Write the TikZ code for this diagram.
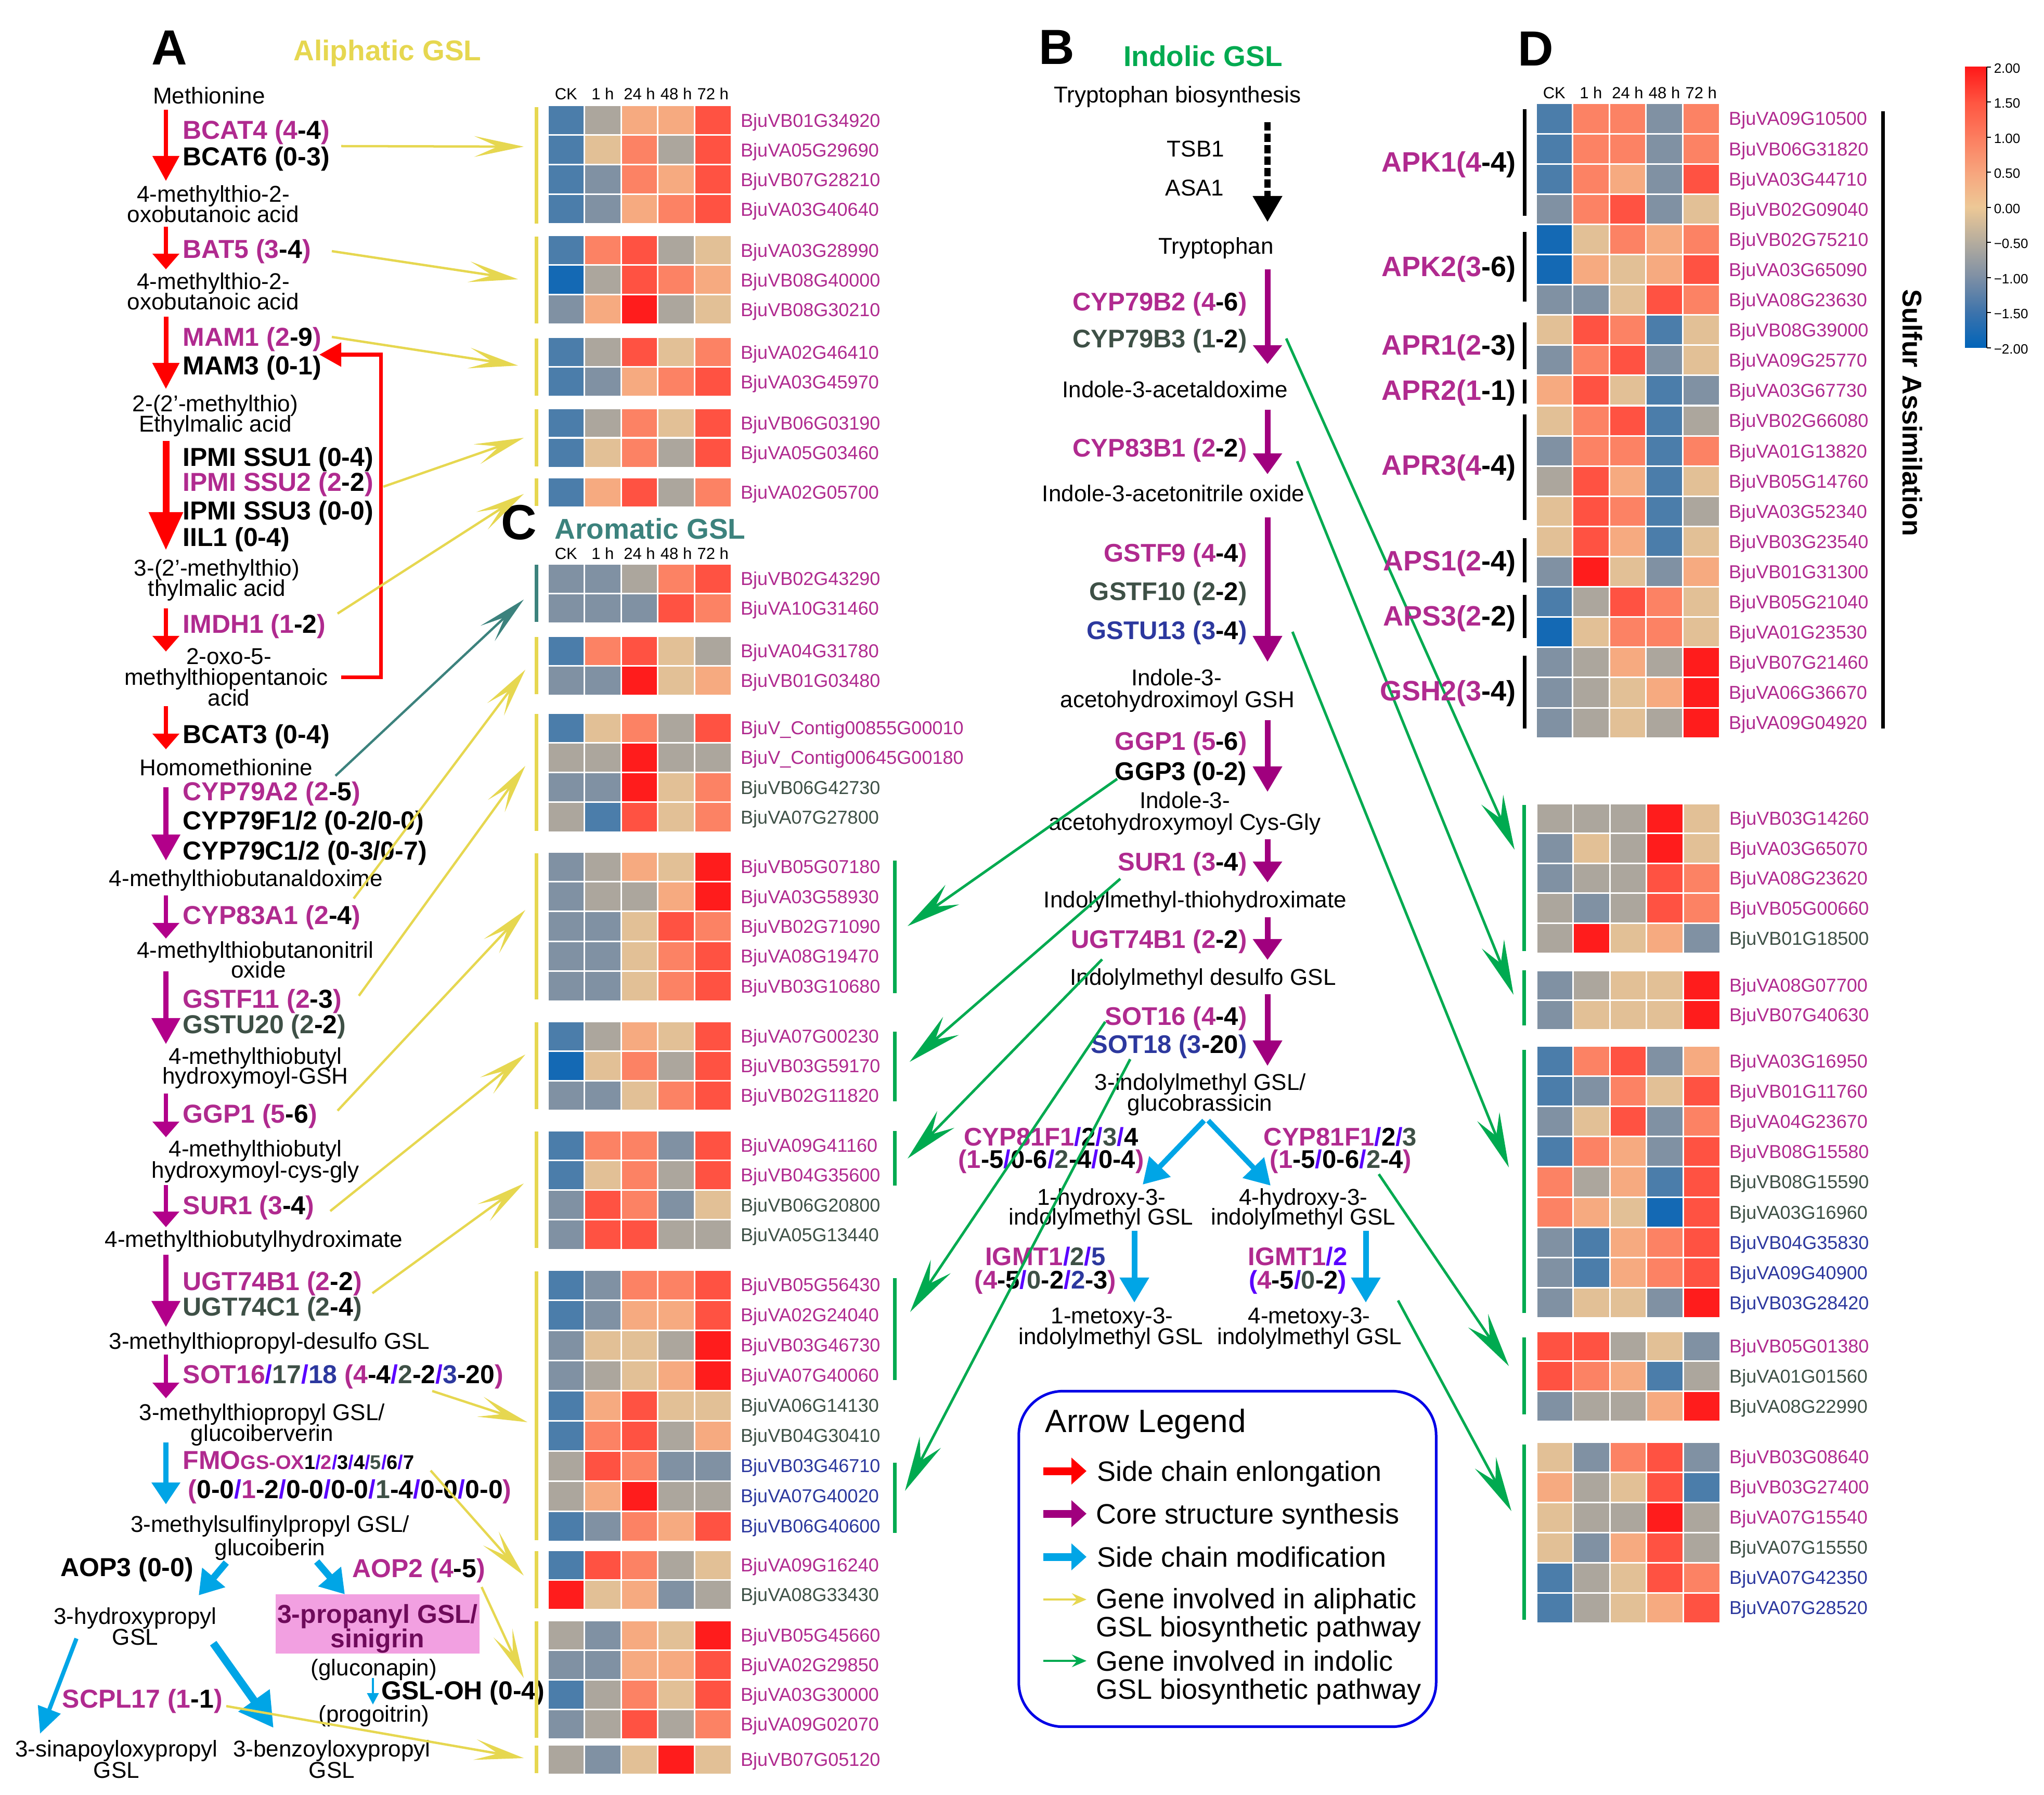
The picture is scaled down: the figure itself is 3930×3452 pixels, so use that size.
\documentclass[tikz,border=0pt]{standalone}
\usepackage{fontspec}
\setmainfont{Liberation Sans}
\usetikzlibrary{arrows.meta}
\definecolor{cred}{RGB}{255,0,0}
\definecolor{cpurA}{RGB}{178,0,138}
\definecolor{cpurB}{RGB}{160,0,126}
\definecolor{cblue}{RGB}{0,165,230}
\definecolor{cyel}{RGB}{230,215,80}
\definecolor{cgrn}{RGB}{0,170,80}
\definecolor{cteal}{RGB}{60,130,125}
\definecolor{gm}{RGB}{176,42,143}
\definecolor{gg}{RGB}{62,80,70}
\definecolor{gn}{RGB}{44,56,158}
\definecolor{gv}{RGB}{90,0,255}
\definecolor{cpink}{RGB}{242,160,225}
\definecolor{cpinkt}{RGB}{110,10,90}
\definecolor{clegbox}{RGB}{0,0,230}
\definecolor{hc0}{RGB}{20,105,180}
\definecolor{hc1}{RGB}{75,125,170}
\definecolor{hc2}{RGB}{128,145,163}
\definecolor{hc3}{RGB}{172,166,157}
\definecolor{hc4}{RGB}{226,192,150}
\definecolor{hc5}{RGB}{246,170,128}
\definecolor{hc6}{RGB}{252,130,100}
\definecolor{hc7}{RGB}{255,82,66}
\definecolor{hc8}{RGB}{255,28,28}
\newcommand\fszA{\fontsize{12.52pt}{14pt}\selectfont}
\newcommand\fszG{\fontsize{14.2pt}{16pt}\selectfont}
\newcommand\fszGB{\fontsize{13.94pt}{16pt}\selectfont}
\newcommand\fszL{\fontsize{10.24pt}{12pt}\selectfont}
\newcommand\fszH{\fontsize{8.82pt}{10pt}\selectfont}
\newcommand\fszT{\fontsize{15.65pt}{18pt}\selectfont}
\newcommand\fszP{\fontsize{27pt}{30pt}\selectfont}
\newcommand\fszLeg{\fontsize{15.36pt}{18pt}\selectfont}
\newcommand\fszLegT{\fontsize{17.64pt}{20pt}\selectfont}
\newcommand\fszSm{\fontsize{10.81pt}{12pt}\selectfont}
\newcommand\fszCB{\fontsize{7.4pt}{9pt}\selectfont}
\newcommand\fszS{\fontsize{15.36pt}{18pt}\selectfont}
\newcommand\fszSA{\fontsize{14.8pt}{17pt}\selectfont}
\newcommand\cM[1]{\textcolor{gm}{#1}}
\newcommand\cK[1]{\textcolor{black}{#1}}
\newcommand\cG[1]{\textcolor{gg}{#1}}
\newcommand\cN[1]{\textcolor{gn}{#1}}
\newcommand\cV{\textcolor{gv}{/}}
\newcommand\rh{57}
\newcommand\hcell[4]{\filldraw[fill=hc#4,draw=white,line width=0.03cm] ({#1+#3*70.6},#2) rectangle ++(70.6,\rh);}
\newcommand\hrow[3]{\edef\tmpd{#3}\expandafter\hrowi\tmpd\relax{#1}{#2}}
\def\hrowi#1#2#3#4#5\relax#6#7{\hcell{#6}{#7}{0}{#1}\hcell{#6}{#7}{1}{#2}\hcell{#6}{#7}{2}{#3}\hcell{#6}{#7}{3}{#4}\hcell{#6}{#7}{4}{#5}}
\newcommand\hgroup[5]{\def\rh{#4}%
 \foreach \nm/\cl/\vals [count=\j from 0] in {#5}{%
   \pgfmathsetmacro\yy{#3+\j*#4}%
   \hrow{#2}{\yy}{\vals}%
   \node[lbl,text=\cl,anchor=west] (#1-\j) at ({#2+370.5},{\yy+#4/2}) {\nm};
 }}
\newcommand\conn[4]{\coordinate (#1s) at (#2);\coordinate (#1e) at (#3);\draw[#4] (#1s) -- (#1e);}
\tikzset{
 chem/.style={font=\fszA, inner sep=0pt, text height=0.315cm, text depth=0pt},
 gA/.style={font=\fszG\bfseries, inner sep=0pt, text height=0.358cm, text depth=0pt, anchor=west},
 gB/.style={font=\fszGB\bfseries, inner sep=0pt, text height=0.351cm, text depth=0pt, anchor=east},
 lbl/.style={font=\fszL, inner sep=0pt, text height=0.258cm, text depth=0pt},
 hdr/.style={font=\fszH, inner sep=0pt, text height=0.222cm, text depth=0pt},
 ttl/.style={font=\fszT\bfseries, inner sep=0pt, text height=0.394cm, text depth=0pt},
 pan/.style={font=\fszP\bfseries, inner sep=0pt, text height=0.68cm, text depth=0pt},
 leg/.style={font=\fszLeg, inner sep=0pt, text height=0.387cm, text depth=0pt, anchor=west},
 cbl/.style={font=\fszCB, inner sep=0pt, text height=0.186cm, text depth=0pt, anchor=west},
 gS/.style={font=\fszS\bfseries, inner sep=0pt, text height=0.387cm, text depth=0pt, anchor=east},
 pinkt/.style={font=\fszG\bfseries, text=cpinkt, inner sep=0pt, text height=0.358cm, text depth=0pt},
 tri/.style 2 args={-{Triangle[width=#1,length=#2]}},
 arrS/.style={line width=0.08cm, tri={0.5cm}{0.3cm}},
 arrM/.style={line width=0.1cm, tri={0.53cm}{0.5cm}},
 yarr/.style={draw=cyel, line width=0.045cm, -{Stealth[length=0.95cm,width=0.4cm,inset=0.45cm]}},
 tarr/.style={draw=cteal, line width=0.045cm, -{Stealth[length=0.95cm,width=0.4cm,inset=0.45cm]}},
 garr/.style={draw=cgrn, line width=0.05cm, -{Stealth[length=1.05cm,width=0.46cm,inset=0.4cm]}},
 bar/.style={line width=0.07cm},
}
\begin{document}
\begin{tikzpicture}[x=0.01cm,y=-0.01cm]
\useasboundingbox (0,0) rectangle (3930,3452);
\fill[white] (0,0) rectangle (3930,3452);

% ---------- titles ----------
\node[pan] (pA) at (326,90) {A};
\node[ttl,text=cyel] (tAli) at (745,97) {Aliphatic GSL};
\node[pan] (pB) at (2032,89) {B};
\node[ttl,text=cgrn] (tInd) at (2313,108) {Indolic GSL};
\node[pan] (pC) at (998,1003) {C};
\node[ttl,text=cteal] (tAro) at (1250,1017) {Aromatic GSL};
\node[pan] (pD) at (2953,92) {D};

% ---------- pathway A ----------
\node[chem] (met) at (402,184) {Methionine};
\node[gA] (bcat4) at (351,250) {\cM{BCAT4 (4}\cK{-4}\cM{)}};
\node[gA] (bcat6) at (351,301) {BCAT6 (0-3)};
\node[chem] (mtoa1a) at (410,373) {4-methylthio-2-};
\node[chem] (mtoa1b) at (410,412) {oxobutanoic acid};
\node[gA] (bat5) at (351,479) {\cM{BAT5 (3}\cK{-4}\cM{)}};
\node[chem] (mtoa2a) at (410,541) {4-methylthio-2-};
\node[chem] (mtoa2b) at (410,580) {oxobutanoic acid};
\node[gA] (mam1) at (351,648) {\cM{MAM1 (2}\cK{-9}\cM{)}};
\node[gA] (mam3) at (351,703) {MAM3 (0-1)};
\node[chem] (emaa) at (414,776) {2-(2’-methylthio)};
\node[chem] (emab) at (414,815) {Ethylmalic acid};
\node[gA] (ipmi1) at (351,879) {IPMI SSU1 (0-4)};
\node[gA] (ipmi2) at (351,927) {\cM{IPMI SSU2 (2}\cK{-2}\cM{)}};
\node[gA] (ipmi3) at (351,982) {IPMI SSU3 (0-0)};
\node[gA] (iil1) at (351,1033) {IIL1 (0-4)};
\node[chem] (tmaa) at (417,1092) {3-(2’-methylthio)};
\node[chem] (tmab) at (417,1131) {thylmalic acid};
\node[gA] (imdh1) at (351,1200) {\cM{IMDH1 (1}\cK{-2}\cM{)}};
\node[chem] (oxoa) at (440,1262) {2-oxo-5-};
\node[chem] (oxob) at (435,1302) {methylthiopentanoic};
\node[chem] (oxoc) at (440,1342) {acid};
\node[gA] (bcat3) at (351,1412) {BCAT3 (0-4)};
\node[chem] (hmet) at (435,1476) {Homomethionine};
\node[gA] (cyp79a2) at (351,1522) {\cM{CYP79A2 (2}\cK{-5}\cM{)}};
\node[gA] (cyp79f) at (351,1578) {CYP79F1/2 (0-2/0-0)};
\node[gA] (cyp79c) at (351,1636) {CYP79C1/2 (0-3/0-7)};
\node[chem] (mtbo) at (473,1689) {4-methylthiobutanaldoxime};
\node[gA] (cyp83a1) at (351,1760) {\cM{CYP83A1 (2}\cK{-4}\cM{)}};
\node[chem] (mtbna) at (491,1827) {4-methylthiobutanonitril};
\node[chem] (mtbnb) at (497,1865) {oxide};
\node[gA] (gstf11) at (351,1921) {\cM{GSTF11 (2}\cK{-3}\cM{)}};
\node[gA] (gstu20) at (351,1970) {\cG{GSTU20 (2}\cK{-2}\cG{)}};
\node[chem] (gsha) at (491,2031) {4-methylthiobutyl};
\node[chem] (gshb) at (491,2069) {hydroxymoyl-GSH};
\node[gA] (ggp1a) at (351,2142) {\cM{GGP1 (5}\cK{-6}\cM{)}};
\node[chem] (cgla) at (491,2209) {4-methylthiobutyl};
\node[chem] (cglb) at (491,2250) {hydroxymoyl-cys-gly};
\node[gA] (sur1a) at (351,2318) {\cM{SUR1 (3}\cK{-4}\cM{)}};
\node[chem] (thx) at (488,2383) {4-methylthiobutylhydroximate};
\node[gA] (ugtb1a) at (351,2464) {\cM{UGT74B1 (2}\cK{-2}\cM{)}};
\node[gA] (ugtc1) at (351,2513) {\cG{UGT74C1 (2}\cK{-4}\cG{)}};
\node[chem] (dsg) at (518,2579) {3-methylthiopropyl-desulfo GSL};
\node[gA] (sota) at (351,2643) {\cM{SOT16}\cV\cG{17}\cV\cN{18}\ \cM{(4}\cK{-4}\cV\cG{2}\cK{-2}\cV\cN{3}\cK{-20}\cM{)}};
\node[chem] (gibva) at (504,2716) {3-methylthiopropyl GSL/};
\node[chem] (gibvb) at (504,2756) {glucoiberverin};
\node[gA] (fmo) at (351,2808) {\cM{FMO}{\fszSm\cM{GS-OX}\cK{1}\cV\cM{2}\cV\cK{3}\cV\cK{4}\cV\cG{5}\cV\cK{6}\cV\cK{7}}};
\node[gA] (fmob) at (361,2864) {\cM{(}\cK{0-0}\cV\cM{1}\cK{-2}\cV\cK{0-0}\cV\cK{0-0}\cV\cG{1}\cK{-4}\cV\cK{0-0}\cV\cK{0-0}\cM{)}};
\node[chem] (giba) at (519,2931) {3-methylsulfinylpropyl GSL/};
\node[chem] (gibb) at (519,2976) {glucoiberin};
\node[gA] (aop3) at (116,3014) {AOP3 (0-0)};
\node[gA] (aop2) at (677,3016) {\cM{AOP2 (4}\cK{-5}\cM{)}};
\node[chem] (hpa) at (260,3108) {3-hydroxypropyl};
\node[chem] (hpb) at (260,3148) {GSL};
\node[fill=cpink, minimum width=3.92cm, minimum height=1.14cm, inner sep=0pt] (pbox) at (726,3123) {};
\node[pinkt] (sina) at (726,3104) {3-propanyl GSL/};
\node[pinkt] (sinb) at (726,3151) {sinigrin};
\node[chem] (gnap) at (719,3207) {(gluconapin)};
\node[gA] (gsloh) at (733,3251) {GSL-OH (0-4)};
\node[chem] (prog) at (719,3296) {(progoitrin)};
\node[gA] (scpl) at (119,3267) {\cM{SCPL17 (1}\cK{-1}\cM{)}};
\node[chem] (sinpa) at (224,3363) {3-sinapoyloxypropyl};
\node[chem] (sinpb) at (224,3404) {GSL};
\node[chem] (benza) at (638,3363) {3-benzoyloxypropyl};
\node[chem] (benzb) at (638,3404) {GSL};

% pathway A arrows
\conn{r1}{319,211}{319,348}{draw=cred,line width=0.08cm,tri={0.5cm}{0.48cm}}
\conn{r2}{319,436}{319,518}{draw=cred,arrS}
\conn{r3}{319,609}{319,748}{draw=cred,line width=0.09cm,tri={0.5cm}{0.5cm}}
\conn{r4}{319,848}{319,1058}{draw=cred,line width=0.13cm,tri={0.63cm}{0.73cm}}
\conn{r5}{319,1170}{319,1253}{draw=cred,arrS}
\conn{r6}{319,1358}{319,1441}{draw=cred,arrS}
\coordinate (fbs) at (656,1302);\coordinate (fb1) at (732,1302);\coordinate (fb2) at (732,682);\coordinate (fbe) at (614,682);
\draw[draw=cred,line width=0.07cm,tri={0.45cm}{0.42cm}] (fbs) -- (fb1) -- (fb2) -- (fbe);
\conn{p1}{319,1514}{319,1655}{draw=cpurA,arrM}
\conn{p2}{319,1722}{319,1805}{draw=cpurA,arrS}
\conn{p3}{319,1868}{319,2008}{draw=cpurA,arrM}
\conn{p4}{319,2103}{319,2187}{draw=cpurA,arrS}
\conn{p5}{319,2279}{319,2360}{draw=cpurA,arrS}
\conn{p6}{319,2413}{319,2552}{draw=cpurA,arrM}
\conn{p7}{319,2605}{319,2689}{draw=cpurA,arrS}
\conn{bf}{319,2774}{319,2893}{draw=cblue,line width=0.1cm,tri={0.53cm}{0.42cm}}
\conn{ba3}{435,3005}{382,3068}{draw=cblue,line width=0.13cm,tri={0.55cm}{0.45cm}}
\conn{ba2}{609,3003}{663,3066}{draw=cblue,line width=0.13cm,tri={0.55cm}{0.45cm}}
\conn{bsn}{147,3151}{77,3334}{draw=cblue,line width=0.08cm,tri={0.45cm}{0.5cm}}
\conn{bbz}{410,3160}{526,3323}{draw=cblue,line width=0.15cm,tri={0.7cm}{0.65cm}}
\conn{boh}{717,3227}{717,3278}{draw=cblue,line width=0.04cm,tri={0.22cm}{0.22cm}}

% yellow / teal connectors
\conn{y1}{656,281}{1007,282}{yarr}
\conn{y2}{638,483}{996,537}{yarr}
\conn{y3}{638,648}{996,703}{yarr}
\conn{y4}{737,936}{1007,842}{yarr}
\conn{y5}{649,1180}{1007,950}{yarr}
\conn{t1}{645,1492}{1007,1153}{tarr}
\conn{y6}{680,1728}{1010,1288}{yarr}
\conn{y7}{690,1915}{1010,1473}{yarr}
\conn{y8}{649,2136}{1010,1750}{yarr}
\conn{y9}{635,2329}{1010,2028}{yarr}
\conn{y10}{716,2487}{1007,2276}{yarr}
\conn{y11}{831,2675}{1014,2735}{yarr}
\conn{y12}{828,2828}{1007,3030}{yarr}
\conn{y13}{926,3052}{1007,3227}{yarr}
\conn{y14}{435,3281}{1007,3381}{yarr}

% ---------- heatmaps A / C ----------
\foreach \t [count=\i from 0] in {CK,1 h,24 h,48 h,72 h}{
  \node[hdr] (hA-\i) at ({1088.3+\i*70.6},180) {\t};
  \node[hdr] (hC-\i) at ({1088.3+\i*70.6},1064) {\t};
  \node[hdr] (hD-\i) at ({2988.3+\i*70.6},178) {\t};}
\hgroup{al1}{1053}{203}{57}{BjuVB01G34920/gm/13557,BjuVA05G29690/gm/14637,BjuVB07G28210/gm/12657,BjuVA03G40640/gm/12567}
\hgroup{al2}{1053}{453}{57}{BjuVA03G28990/gm/16734,BjuVB08G40000/gm/03765,BjuVB08G30210/gm/25834}
\hgroup{al3}{1053}{649}{57}{BjuVA02G46410/gm/13746,BjuVA03G45970/gm/12567}
\hgroup{al4}{1053}{785}{57}{BjuVB06G03190/gm/13647,BjuVA05G03460/gm/14637}
\hgroup{al5}{1053}{918}{57}{BjuVA02G05700/gm/15736}
\hgroup{ar1}{1053}{1084}{57}{BjuVB02G43290/gm/22367,BjuVA10G31460/gm/22276}
\hgroup{ar2}{1053}{1223}{57}{BjuVA04G31780/gm/16743,BjuVB01G03480/gm/22845}
\hgroup{ar3}{1053}{1371}{57.3}{BjuV\_Contig00855G00010/gm/14637,BjuV\_Contig00645G00180/gm/33833,BjuVB06G42730/gg/22846,BjuVA07G27800/gg/31746}
\hgroup{ar4}{1053}{1638}{57.4}{BjuVB05G07180/gm/23548,BjuVA03G58930/gm/23358,BjuVB02G71090/gm/22476,BjuVA08G19470/gm/22467,BjuVB03G10680/gm/22467}
\hgroup{ar5}{1053}{1964}{57}{BjuVA07G00230/gm/13547,BjuVB03G59170/gm/04637,BjuVB02G11820/gm/22467}
\hgroup{ar6}{1053}{2174}{57.3}{BjuVA09G41160/gm/16627,BjuVB04G35600/gm/14637,BjuVB06G20800/gg/27624,BjuVA05G13440/gg/27733}
\hgroup{ar7}{1053}{2442}{58}{BjuVB05G56430/gm/12667,BjuVA02G24040/gm/12557,BjuVB03G46730/gm/24438,BjuVA07G40060/gm/23458,BjuVA06G14130/gg/15744,BjuVB04G30410/gg/16735,BjuVB03G46710/gn/37622,BjuVA07G40020/gn/35833,BjuVB06G40600/gn/12657}
\hgroup{ar8}{1053}{2981}{57}{BjuVA09G16240/gm/17634,BjuVA08G33430/gg/84523}
\hgroup{ar9}{1053}{3116}{57}{BjuVB05G45660/gm/32548,BjuVA02G29850/gm/22557,BjuVA03G30000/gm/13647,BjuVA09G02070/gm/23736}
\hgroup{ar10}{1053}{3355}{57}{BjuVB07G05120/gm/32484}
% group bars
\draw[bar,cyel] (1031,206) -- (1031,430);
\draw[bar,cyel] (1031,455) -- (1031,622);
\draw[bar,cyel] (1031,651) -- (1031,761);
\draw[bar,cyel] (1031,787) -- (1031,897);
\draw[bar,cyel] (1031,920) -- (1031,973);
\draw[bar,cteal] (1031,1086) -- (1031,1196);
\draw[bar,cyel] (1031,1225) -- (1031,1335);
\draw[bar,cyel] (1031,1373) -- (1031,1598);
\draw[bar,cyel] (1031,1641) -- (1031,1922);
\draw[bar,cyel] (1031,1966) -- (1031,2133);
\draw[bar,cyel] (1031,2176) -- (1031,2400);
\draw[bar,cyel] (1031,2445) -- (1031,2962);
\draw[bar,cyel] (1031,2983) -- (1031,3093);
\draw[bar,cyel] (1031,3118) -- (1031,3342);
\draw[bar,cyel] (1031,3357) -- (1031,3410);
\draw[bar,cgrn] (1720,1655) -- (1720,1910);
\draw[bar,cgrn] (1720,1984) -- (1720,2118);
\draw[bar,cgrn] (1720,2175) -- (1720,2280);
\draw[bar,cgrn] (1720,2458) -- (1720,2654);
\draw[bar,cgrn] (1720,2813) -- (1720,2948);

% ---------- pathway B ----------
\node[chem] (trpb) at (2264,182) {Tryptophan biosynthesis};
\node[chem] (tsb1) at (2299,286) {TSB1};
\node[chem] (asa1) at (2297,361) {ASA1};
\node[chem] (trp) at (2338,473) {Tryptophan};
\node[gB] (cyp79b2) at (2398,580) {\cM{CYP79B2 (4}\cK{-6}\cM{)}};
\node[gB] (cyp79b3) at (2398,651) {\cG{CYP79B3 (1}\cK{-2}\cG{)}};
\node[chem] (iaox) at (2259,749) {Indole-3-acetaldoxime};
\node[gB] (cyp83b1) at (2398,861) {\cM{CYP83B1 (2}\cK{-2}\cM{)}};
\node[chem] (iano) at (2256,949) {Indole-3-acetonitrile oxide};
\node[gB] (gstf9) at (2398,1063) {\cM{GSTF9 (4}\cK{-4}\cM{)}};
\node[gB] (gstf10) at (2398,1137) {\cG{GSTF10 (2}\cK{-2}\cG{)}};
\node[gB] (gstu13) at (2398,1212) {\cN{GSTU13 (3}\cK{-4}\cN{)}};
\node[chem] (igsha) at (2262,1303) {Indole-3-};
\node[chem] (igshb) at (2264,1345) {acetohydroximoyl GSH};
\node[gB] (ggp1b) at (2398,1425) {\cM{GGP1 (5}\cK{-6}\cM{)}};
\node[gB] (ggp3) at (2398,1483) {GGP3 (0-2)};
\node[chem] (icga) at (2278,1539) {Indole-3-};
\node[chem] (icgb) at (2278,1581) {acetohydroxymoyl Cys-Gly};
\node[gB] (sur1b) at (2398,1657) {\cM{SUR1 (3}\cK{-4}\cM{)}};
\node[chem] (ithx) at (2298,1730) {Indolylmethyl-thiohydroximate};
\node[gB] (ugtb1b) at (2398,1806) {\cM{UGT74B1 (2}\cK{-2}\cM{)}};
\node[chem] (ids) at (2313,1879) {Indolylmethyl desulfo GSL};
\node[gB] (sot16b) at (2398,1954) {\cM{SOT16 (4}\cK{-4}\cM{)}};
\node[gB] (sot18b) at (2398,2008) {\cN{SOT18 (3}\cK{-20}\cN{)}};
\node[chem] (gbra) at (2308,2081) {3-indolylmethyl GSL/};
\node[chem] (gbrb) at (2307,2121) {glucobrassicin};
\node[gB,anchor=center] (cyp81l) at (2021,2186) {\cM{CYP81F1}\cV\cK{2}\cV\cG{3}\cV\cK{4}};
\node[gB,anchor=center] (cyp81lb) at (2021,2229) {\cM{(1}\cK{-5}\cV\cK{0-6}\cV\cG{2}\cK{-4}\cV\cK{0-4}\cM{)}};
\node[gB,anchor=center] (cyp81r) at (2577,2186) {\cM{CYP81F1}\cV\cK{2}\cV\cG{3}};
\node[gB,anchor=center] (cyp81rb) at (2578,2229) {\cM{(1}\cK{-5}\cV\cK{0-6}\cV\cG{2}\cK{-4}\cM{)}};
\node[chem] (h1a) at (2118,2302) {1-hydroxy-3-};
\node[chem] (h1b) at (2117,2340) {indolylmethyl GSL};
\node[chem] (h4a) at (2506,2302) {4-hydroxy-3-};
\node[chem] (h4b) at (2506,2340) {indolylmethyl GSL};
\node[gB,anchor=center] (igmtl) at (2010,2416) {\cM{IGMT1}\cV\cG{2}\cV\cN{5}};
\node[gB,anchor=center] (igmtlb) at (2010,2461) {\cM{(4}\cK{-5}\cV\cG{0}\cK{-2}\cV\cN{2}\cK{-3}\cM{)}};
\node[gB,anchor=center] (igmtr) at (2495,2416) {\cM{IGMT1}\cV\textcolor{gv}{2}};
\node[gB,anchor=center] (igmtrb) at (2495,2461) {\textcolor{gv}{(}\cM{4}\cK{-5}\cV\cG{0}\cK{-2}\textcolor{gv}{)}};
\node[chem] (m1a) at (2138,2530) {1-metoxy-3-};
\node[chem] (m1b) at (2136,2570) {indolylmethyl GSL};
\node[chem] (m4a) at (2517,2530) {4-metoxy-3-};
\node[chem] (m4b) at (2518,2570) {indolylmethyl GSL};

% pathway B arrows
\coordinate (dks) at (2437,235);\coordinate (dkm) at (2437,385);\coordinate (dke) at (2437,427);
\draw[line width=0.115cm,dash pattern=on 0.16cm off 0.06cm] (dks) -- (dkm);
\draw[line width=0.115cm,tri={0.54cm}{0.5cm}] (dkm) -- (dke);
\conn{q1}{2437,518}{2437,700}{draw=cpurB,line width=0.11cm,tri={0.54cm}{0.36cm}}
\conn{q2}{2437,788}{2437,912}{draw=cpurB,line width=0.11cm,tri={0.54cm}{0.4cm}}
\conn{q3}{2437,995}{2437,1273}{draw=cpurB,line width=0.11cm,tri={0.54cm}{0.5cm}}
\conn{q4}{2437,1385}{2437,1523}{draw=cpurB,line width=0.11cm,tri={0.54cm}{0.49cm}}
\conn{q5}{2437,1614}{2437,1697}{draw=cpurB,line width=0.11cm,tri={0.54cm}{0.4cm}}
\conn{q6}{2437,1764}{2437,1846}{draw=cpurB,line width=0.11cm,tri={0.54cm}{0.4cm}}
\conn{q7}{2437,1912}{2437,2050}{draw=cpurB,line width=0.11cm,tri={0.54cm}{0.49cm}}
\conn{bb1}{2315,2155}{2197,2278}{draw=cblue,line width=0.1cm,tri={0.55cm}{0.48cm}}
\conn{bb2}{2323,2155}{2443,2280}{draw=cblue,line width=0.1cm,tri={0.55cm}{0.48cm}}
\conn{bb3}{2181,2367}{2181,2505}{draw=cblue,line width=0.11cm,tri={0.54cm}{0.48cm}}
\conn{bb4}{2626,2367}{2626,2505}{draw=cblue,line width=0.11cm,tri={0.54cm}{0.48cm}}

% green connectors
\conn{g1}{2148,1498}{1745,1781}{garr}
\conn{g2}{2154,1690}{1749,2042}{garr}
\conn{g3}{2119,1845}{1745,2228}{garr}
\conn{g4}{2125,1965}{1750,2523}{garr}
\conn{g5}{2173,2037}{1740,2867}{garr}
\conn{g6}{2473,651}{2912,1634}{garr}
\conn{g7}{2494,887}{2910,1913}{garr}
\conn{g8}{2485,1215}{2901,2245}{garr}
\conn{g9}{2651,2258}{2901,2627}{garr}
\conn{g10}{2688,2501}{2906,2906}{garr}

% ---------- legend ----------
\node[draw=clegbox, line width=0.05cm, rounded corners=0.85cm, minimum width=8.02cm, minimum height=6.45cm, inner sep=0pt] (legbox) at (2360,2998) {};
\node[font=\fszLegT, inner sep=0pt, text height=0.444cm, text depth=0pt, anchor=west] (legt) at (2009,2732) {Arrow Legend};
\conn{l1}{2006,2829}{2089,2829}{draw=cred,line width=0.15cm,tri={0.5cm}{0.29cm}}
\conn{l2}{2006,2911}{2089,2911}{draw=cpurB,line width=0.15cm,tri={0.5cm}{0.29cm}}
\conn{l3}{2006,2994}{2089,2994}{draw=cblue,line width=0.15cm,tri={0.5cm}{0.29cm}}
\conn{l4}{2006,3076}{2089,3076}{draw=cyel,line width=0.04cm,-{Stealth[length=0.28cm,width=0.24cm,inset=0.1cm]}}
\conn{l5}{2006,3194}{2089,3194}{draw=cgrn,line width=0.04cm,-{Stealth[length=0.28cm,width=0.24cm,inset=0.1cm]}}
\node[leg] (lt1) at (2109,2829) {Side chain enlongation};
\node[leg] (lt2) at (2107,2911) {Core structure synthesis};
\node[leg] (lt3) at (2109,2994) {Side chain modification};
\node[leg] (lt4) at (2107,3074) {Gene involved in aliphatic};
\node[leg] (lt5) at (2107,3128) {GSL biosynthetic pathway};
\node[leg] (lt6) at (2107,3194) {Gene involved in indolic};
\node[leg] (lt7) at (2107,3248) {GSL biosynthetic pathway};

% ---------- panel D ----------
\hgroup{du}{2953}{199}{58.1}{BjuVA09G10500/gm/16626,BjuVB06G31820/gm/16626,BjuVA03G44710/gm/16527,BjuVB02G09040/gm/26724,BjuVB02G75210/gm/04656,BjuVA03G65090/gm/05457,BjuVA08G23630/gm/22476,BjuVB08G39000/gm/47614,BjuVA09G25770/gm/26724,BjuVA03G67730/gm/57412,BjuVB02G66080/gm/46713,BjuVA01G13820/gm/26616,BjuVB05G14760/gm/37514,BjuVA03G52340/gm/47613,BjuVB03G23540/gm/47514,BjuVB01G31300/gm/28425,BjuVB05G21040/gm/13764,BjuVA01G23530/gm/04664,BjuVB07G21460/gm/23538,BjuVA06G36670/gm/23458,BjuVA09G04920/gm/23438}
\hgroup{d1}{2954}{1545}{57.6}{BjuVB03G14260/gm/33384,BjuVA03G65070/gm/24384,BjuVA08G23620/gm/23376,BjuVB05G00660/gm/32376,BjuVB01G18500/gg/38452}
\hgroup{d2}{2954}{1866}{57}{BjuVA08G07700/gm/23448,BjuVB07G40630/gm/24448}
\hgroup{d3}{2954}{2011}{58.2}{BjuVA03G16950/gm/16725,BjuVB01G11760/gm/12647,BjuVA04G23670/gm/24726,BjuVB08G15580/gm/16527,BjuVB08G15590/gg/63517,BjuVA03G16960/gg/65407,BjuVB04G35830/gn/21567,BjuVA09G40900/gn/21567,BjuVB03G28420/gn/24428}
\hgroup{d4}{2954}{2560}{57.7}{BjuVB05G01380/gm/77342,BjuVA01G01560/gg/76513,BjuVA08G22990/gg/23358}
\hgroup{d5}{2954}{2773}{58}{BjuVB03G08640/gm/42672,BjuVB03G27400/gm/53471,BjuVA07G15540/gm/43383,BjuVA07G15550/gg/42573,BjuVA07G42350/gn/13476,BjuVA07G28520/gn/13457}
\draw[bar] (2931,210) -- (2931,415);
\draw[bar] (2931,446) -- (2931,580);
\draw[bar] (2931,620) -- (2931,710);
\draw[bar] (2931,730) -- (2931,776);
\draw[bar] (2931,797) -- (2931,1000);
\draw[bar] (2931,1035) -- (2931,1120);
\draw[bar] (2931,1144) -- (2931,1227);
\draw[bar] (2931,1261) -- (2931,1401);
\draw[bar] (3620,214) -- (3620,1401);
\draw[bar,cgrn] (2930,1548) -- (2930,1829);
\draw[bar,cgrn] (2930,1866) -- (2930,1972);
\draw[bar,cgrn] (2930,2019) -- (2930,2525);
\draw[bar,cgrn] (2930,2572) -- (2930,2720);
\draw[bar,cgrn] (2930,2778) -- (2930,3115);
\node[gS] (apk1) at (2915,311) {\cM{APK1(4}\cK{-4)}};
\node[gS] (apk2) at (2915,512) {\cM{APK2(3}\cK{-6)}};
\node[gS] (apr1) at (2915,663) {\cM{APR1(2}\cK{-3)}};
\node[gS] (apr2) at (2915,750) {\cM{APR2(1}\cK{-1)}};
\node[gS] (apr3) at (2915,894) {\cM{APR3(4}\cK{-4)}};
\node[gS] (aps1) at (2915,1078) {\cM{APS1(2}\cK{-4)}};
\node[gS] (aps3) at (2915,1184) {\cM{APS3(2}\cK{-2)}};
\node[gS] (gsh2) at (2915,1328) {\cM{GSH2(3}\cK{-4)}};
\node[font=\fszSA\bfseries, inner sep=0pt, rotate=-90] (sulf) at (3677,794) {Sulfur Assimilation};

% colour bar
\shade[top color={rgb,255:red,255;green,25;blue,25}, bottom color={rgb,255:red,255;green,85;blue,65}] (3778,129) rectangle (3820,197);
\shade[top color={rgb,255:red,255;green,85;blue,65}, bottom color={rgb,255:red,252;green,125;blue,95}] (3778,196) rectangle (3820,264);
\shade[top color={rgb,255:red,252;green,125;blue,95}, bottom color={rgb,255:red,247;green,165;blue,125}] (3778,263) rectangle (3820,332);
\shade[top color={rgb,255:red,247;green,165;blue,125}, bottom color={rgb,255:red,237;green,200;blue,150}] (3778,331) rectangle (3820,399);
\shade[top color={rgb,255:red,237;green,200;blue,150}, bottom color={rgb,255:red,180;green,172;blue,158}] (3778,398) rectangle (3820,467);
\shade[top color={rgb,255:red,180;green,172;blue,158}, bottom color={rgb,255:red,125;green,143;blue,165}] (3778,466) rectangle (3820,534);
\shade[top color={rgb,255:red,125;green,143;blue,165}, bottom color={rgb,255:red,60;green,115;blue,172}] (3778,533) rectangle (3820,602);
\shade[top color={rgb,255:red,60;green,115;blue,172}, bottom color={rgb,255:red,0;green,100;blue,185}] (3778,601) rectangle (3820,669);
\draw[line width=0.02cm] (3820,129) -- (3820,669);
\foreach \t [count=\i from 0] in {2.00,1.50,1.00,0.50,0.00,−0.50,−1.00,−1.50,−2.00}{
  \draw[line width=0.02cm] (3820,{129+\i*67.5}) -- (3828,{129+\i*67.5});
  \node[cbl] (cb\i) at (3833,{131+\i*67.5}) {\t};}
\end{tikzpicture}
\end{document}
